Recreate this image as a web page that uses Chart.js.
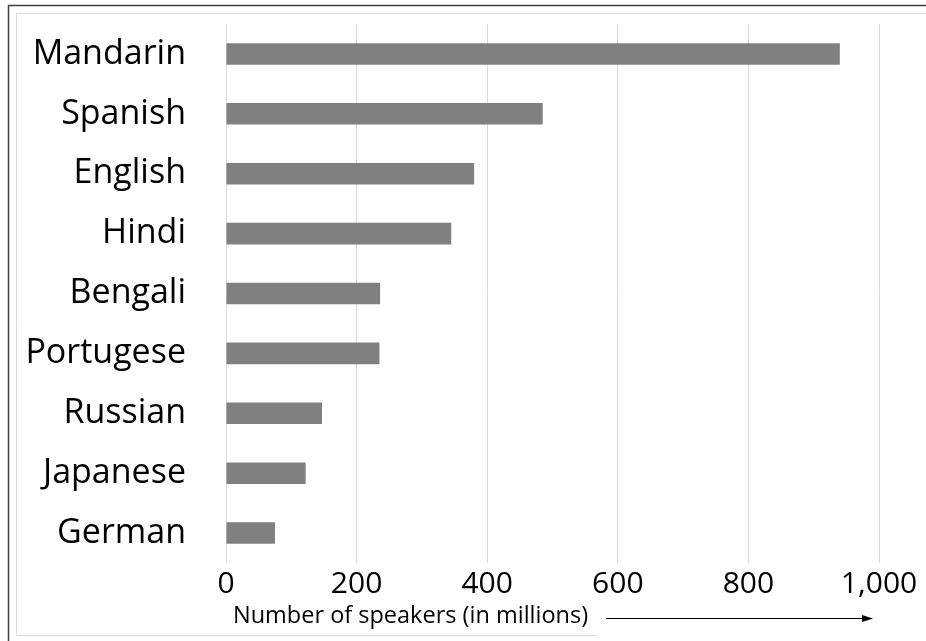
<!DOCTYPE html>
<html>
<head>
<meta charset="utf-8">
<script src="https://cdn.jsdelivr.net/npm/chart.js@4/dist/chart.umd.min.js"></script>
<style>
  html, body { margin: 0; padding: 0; background: #fff; }
  #wrap { width: 926px; height: 641px; position: relative; }
</style>
</head>
<body>
<div id="wrap"><canvas id="chart" width="926" height="641"></canvas></div>
<script>
// Most spoken languages, native speakers in millions
const languages = ["Mandarin", "Spanish", "English", "Hindi", "Bengali", "Portugese", "Russian", "Japanese", "German"];
const speakers = [940, 485, 380, 345, 236, 235, 147, 122, 75];
const axisTitle = "Number of speakers (in millions)";

const FONT = "'Open Sans', 'DejaVu Sans', sans-serif";

// Frame lines plus the axis caption with its arrow
const decorations = {
  id: 'decorations',
  beforeDraw(chart) {
    const ctx = chart.ctx;
    ctx.save();
    ctx.fillStyle = '#ffffff';
    ctx.fillRect(0, 0, chart.width, chart.height);
    // outer dark frame
    ctx.strokeStyle = '#404040';
    ctx.lineWidth = 1.5;
    ctx.beginPath();
    ctx.moveTo(8.5, chart.height);
    ctx.lineTo(8.5, 5.5);
    ctx.lineTo(chart.width, 5.5);
    ctx.stroke();
    // inner light frame
    ctx.strokeStyle = '#d9d9d9';
    ctx.lineWidth = 1;
    ctx.beginPath();
    ctx.moveTo(chart.width, 13.5);
    ctx.lineTo(16.5, 13.5);
    ctx.lineTo(16.5, 635.5);
    ctx.lineTo(597, 635.5);
    ctx.stroke();
    ctx.restore();
  },
  afterDraw(chart) {
    const ctx = chart.ctx;
    const x = chart.scales.x;
    ctx.save();
    ctx.fillStyle = '#000';
    ctx.font = "23.5px " + FONT;
    ctx.textAlign = 'left';
    ctx.textBaseline = 'middle';
    ctx.fillText(axisTitle, x.left + 7, 616);
    // arrow pointing toward larger values
    const y = 618.5;
    const x0 = 606, x1 = x.right - 7;
    ctx.strokeStyle = '#000';
    ctx.lineWidth = 1.2;
    ctx.beginPath();
    ctx.moveTo(x0, y);
    ctx.lineTo(x1, y);
    ctx.stroke();
    ctx.beginPath();
    ctx.moveTo(x1 + 1, y);
    ctx.lineTo(x1 - 10, y - 3.5);
    ctx.lineTo(x1 - 10, y + 3.5);
    ctx.closePath();
    ctx.fillStyle = '#000';
    ctx.fill();
    ctx.restore();
  }
};

new Chart(document.getElementById('chart'), {
  type: 'bar',
  data: {
    labels: languages,
    datasets: [{
      data: speakers,
      backgroundColor: '#808080',
      borderWidth: 0,
      categoryPercentage: 1,
      barPercentage: 0.36
    }]
  },
  options: {
    indexAxis: 'y',
    responsive: false,
    animation: false,
    devicePixelRatio: 1,
    layout: { padding: { top: 24, right: 47, left: 0, bottom: 0 } },
    plugins: {
      legend: { display: false },
      tooltip: { enabled: false }
    },
    scales: {
      x: {
        min: 0,
        max: 1000,
        ticks: {
          stepSize: 200,
          color: '#000',
          padding: 3,
          font: { family: FONT, size: 30 },
          callback: (v) => v.toLocaleString('en-US')
        },
        grid: { color: '#d9d9d9', lineWidth: 1, drawTicks: false },
        border: { display: false },
        afterFit(scale) {
          scale.height = 78;
          scale.paddingLeft = 0;
          scale.paddingRight = 0;
        }
      },
      y: {
        ticks: {
          color: '#000',
          padding: 40,
          font: { family: FONT, size: 34 }
        },
        grid: { display: false, drawTicks: false },
        border: { display: false },
        afterFit(scale) {
          scale.width = 226;
          scale.paddingTop = 0;
          scale.paddingBottom = 0;
        }
      }
    }
  },
  plugins: [decorations]
});
</script>
</body>
</html>
